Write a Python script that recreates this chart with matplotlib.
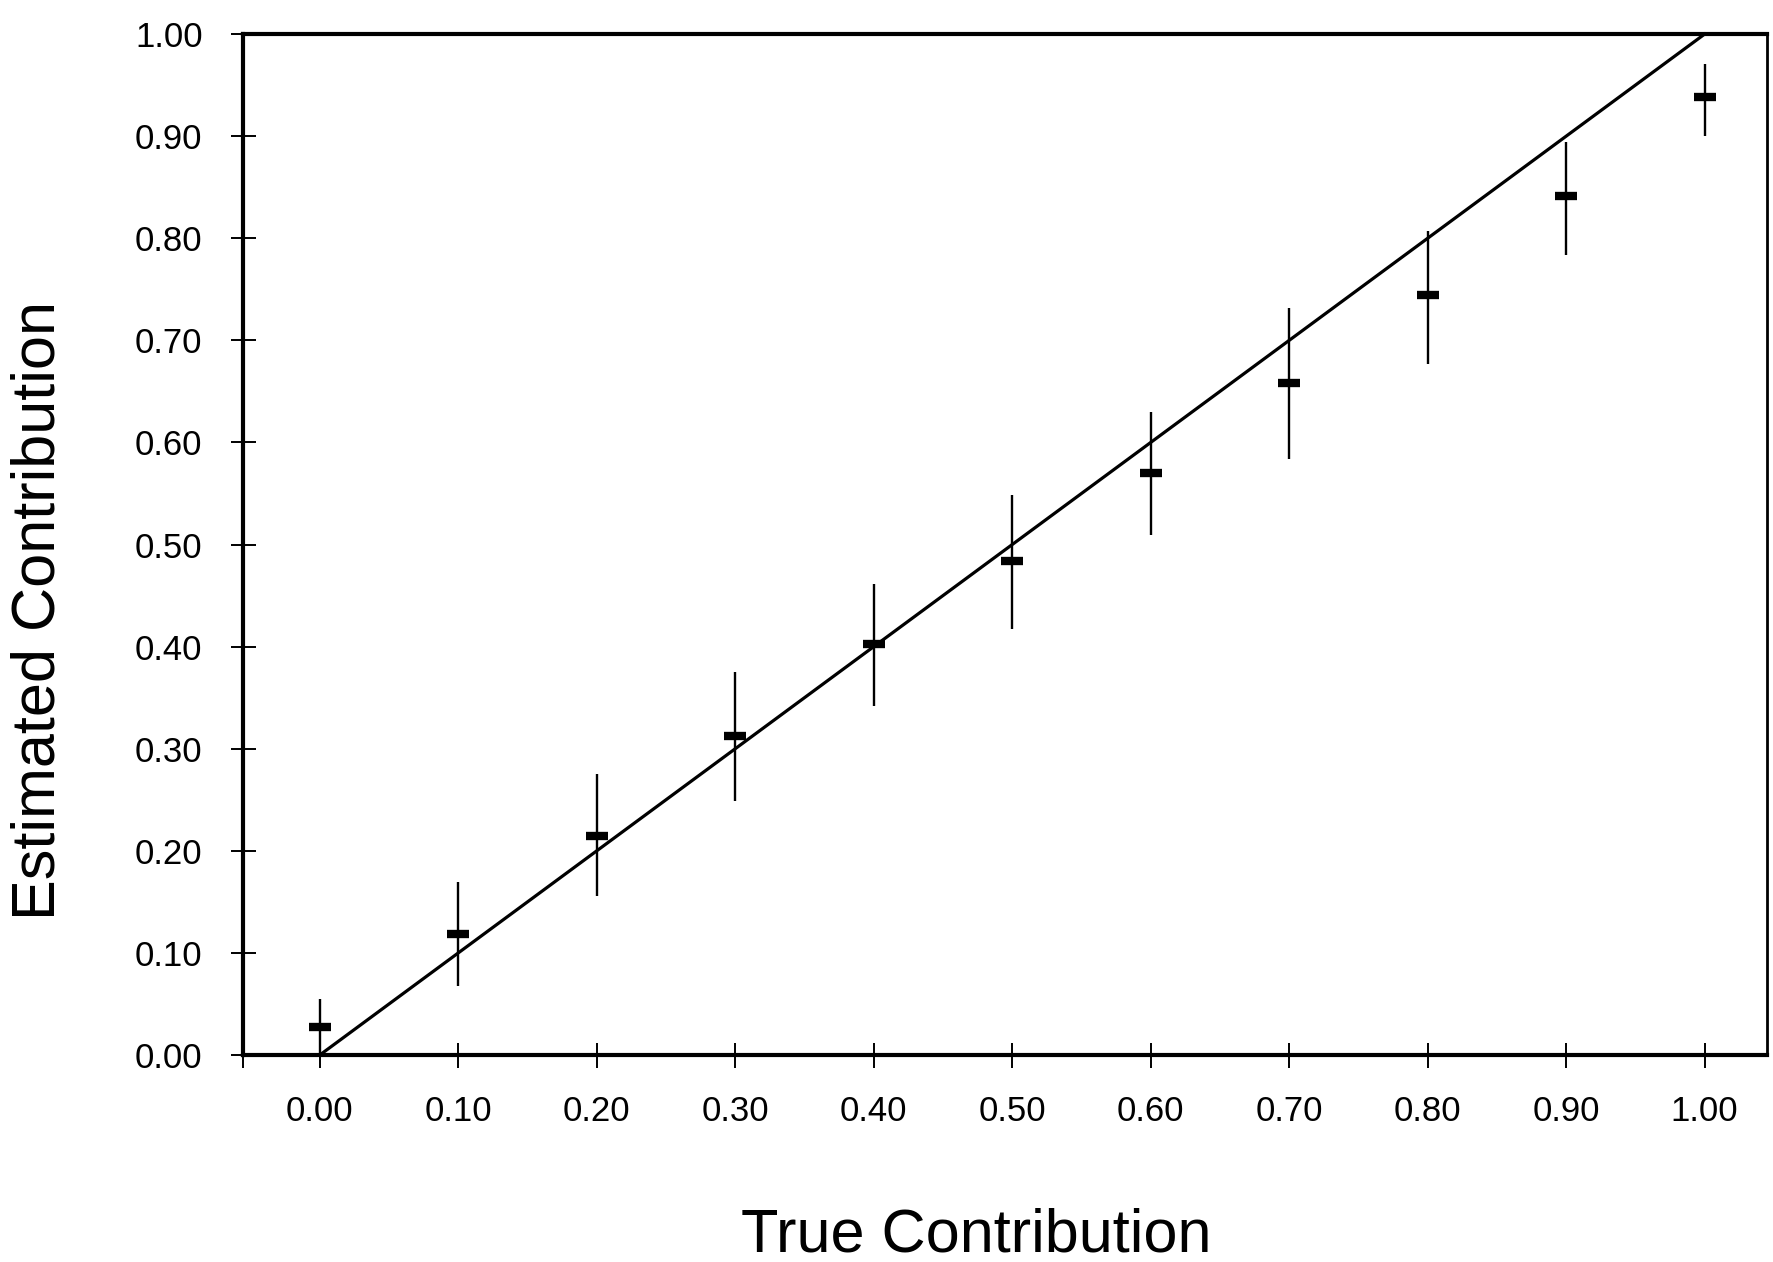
import matplotlib.pyplot as plt
import numpy as np

plt.rcParams['font.family'] = ['Liberation Sans', 'DejaVu Sans']

# Data
true_contrib = [0.0, 0.1, 0.2, 0.3, 0.4, 0.5, 0.6, 0.7, 0.8, 0.9, 1.0]
est_mean = [0.027, 0.119, 0.215, 0.312, 0.403, 0.484, 0.570, 0.658, 0.744, 0.841, 0.938]
err_top = [0.055, 0.169, 0.275, 0.375, 0.461, 0.549, 0.630, 0.732, 0.807, 0.894, 0.971]
err_bottom = [0.000, 0.068, 0.156, 0.249, 0.342, 0.417, 0.509, 0.584, 0.677, 0.784, 0.900]
tick_vals = [0.0, 0.1, 0.2, 0.3, 0.4, 0.5, 0.6, 0.7, 0.8, 0.9, 1.0]
tick_labels = ["0.00", "0.10", "0.20", "0.30", "0.40", "0.50",
               "0.60", "0.70", "0.80", "0.90", "1.00"]

fig = plt.figure(figsize=(17.73, 12.62), dpi=100)
ax = fig.add_axes([0.137, 0.164, 0.8596, 0.809])

# identity line
ax.plot([0, 1], [0, 1], color='black', lw=2.3, clip_on=False)

# error bars
mean = np.array(est_mean)
yerr = [mean - np.array(err_bottom), np.array(err_top) - mean]
ax.errorbar(true_contrib, est_mean, yerr=yerr, fmt='none', ecolor='black',
            elinewidth=1.7, capsize=0)
ax.plot(true_contrib, est_mean, linestyle='none', marker='_', color='black',
        markersize=16, markeredgewidth=6)

ax.set_xlim(-0.0555, 1.045)
ax.set_ylim(0, 1)

ax.set_xticks(tick_vals)
ax.set_xticklabels(tick_labels)
ax.set_yticks(tick_vals)
ax.set_yticklabels(tick_labels)
ax.set_xticks([-0.0555], minor=True)

ax.tick_params(axis='both', which='both', direction='inout', length=18,
               width=1.4, labelsize=25, color='black')
ax.tick_params(axis='x', pad=20)
ax.tick_params(axis='y', pad=20)

for side in ['left', 'bottom', 'top']:
    ax.spines[side].set_linewidth(3)
ax.spines['right'].set_linewidth(2)

ax.set_xlabel("True Contribution", fontsize=44, va='center')
ax.set_ylabel("Estimated Contribution", fontsize=44, va='center')
ax.xaxis.set_label_coords(0.481, -0.177)
ax.yaxis.set_label_coords(-0.1335, 0.435)

fig.savefig("out.png", dpi=100, facecolor='white')
